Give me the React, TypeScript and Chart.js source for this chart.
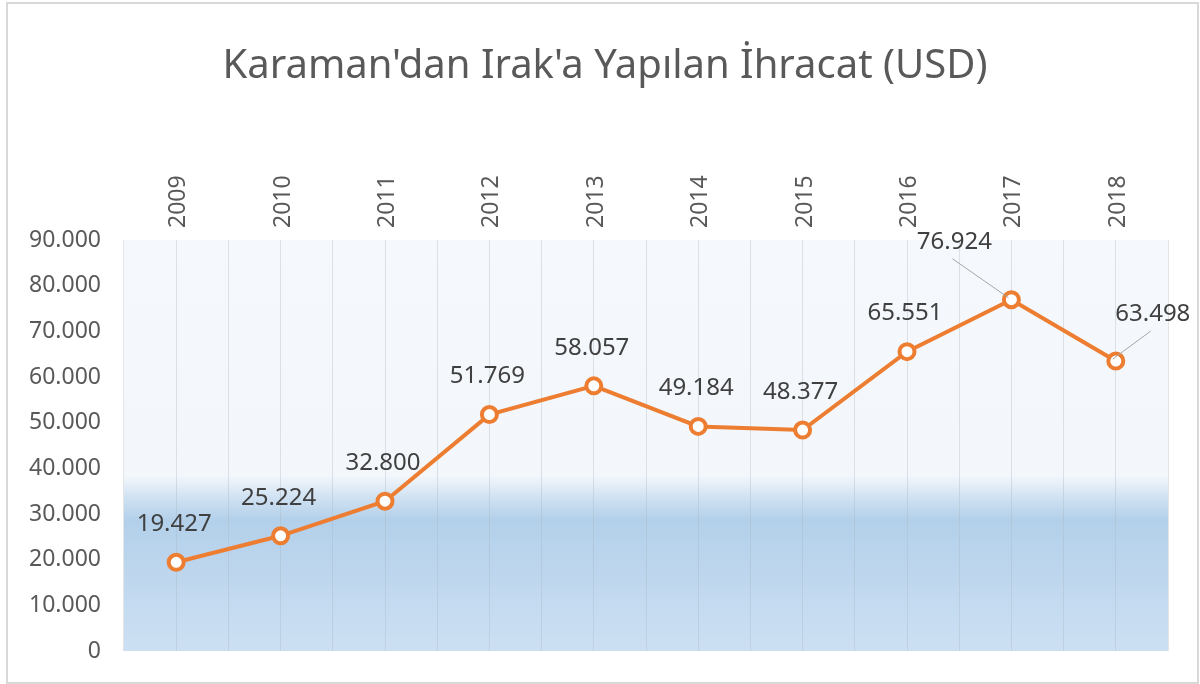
import React, { useEffect, useRef } from 'react';
import { Chart, registerables } from 'chart.js';

Chart.register(...registerables);

const chartTitle = "Karaman'dan Irak'a Yapılan İhracat (USD)";
const years = ['2009', '2010', '2011', '2012', '2013', '2014', '2015', '2016', '2017', '2018'];
const exportsUsd = [19427, 25224, 32800, 51769, 58057, 49184, 48377, 65551, 76924, 63498];
const yMin = 0;
const yMax = 90000;
const yStep = 10000;

const fmt = (v: number) => (v === 0 ? '0' : String(v).replace(/\B(?=(\d{3})+(?!\d))/g, '.'));

const FONT = "'Noto Sans', sans-serif";

export default function App() {
  const ref = useRef<HTMLCanvasElement | null>(null);

  useEffect(() => {
    document.body.style.margin = '0';
    const canvas = ref.current;
    if (!canvas) return;

    const bgPlugin = {
      id: 'bgPlugin',
      beforeDraw(chart: any) {
        const { ctx, chartArea: a } = chart;
        ctx.save();
        ctx.fillStyle = '#ffffff';
        ctx.fillRect(0, 0, chart.width, chart.height);
        // outer frame
        ctx.strokeStyle = '#d9d9d9';
        ctx.lineWidth = 2;
        ctx.strokeRect(7, 3, 1191, 680);
        // plot area gradient
        const h = a.bottom - a.top;
        const g = ctx.createLinearGradient(0, a.top, 0, a.bottom);
        g.addColorStop(0, '#f5f9fd');
        g.addColorStop((476 - a.top) / h, '#f3f7fc');
        g.addColorStop((498 - a.top) / h, '#cfe1f2');
        g.addColorStop((520 - a.top) / h, '#b3d0ea');
        g.addColorStop(1, '#cde0f3');
        ctx.fillStyle = g;
        ctx.fillRect(a.left, a.top, a.right - a.left, h);
        ctx.restore();
      },
    };

    const titlePlugin = {
      id: 'titlePlugin',
      afterDraw(chart: any) {
        const { ctx } = chart;
        ctx.save();
        ctx.font = `40px ${FONT}`;
        ctx.fillStyle = '#595959';
        ctx.textAlign = 'center';
        ctx.textBaseline = 'alphabetic';
        ctx.fillText(chartTitle, 605, 78);
        ctx.restore();
      },
    };

    const labelOffsets: Record<number, { dx: number; dy: number; leader: boolean }> = {
      8: { dx: -57, dy: -58, leader: true },
      9: { dx: 37, dy: -47, leader: true },
    };

    const labelPlugin = {
      id: 'labelPlugin',
      afterDatasetsDraw(chart: any) {
        const { ctx } = chart;
        const meta = chart.getDatasetMeta(0);
        ctx.save();
        ctx.font = `24px ${FONT}`;
        ctx.fillStyle = '#404040';
        ctx.textAlign = 'center';
        ctx.textBaseline = 'middle';
        meta.data.forEach((pt: any, i: number) => {
          const off = labelOffsets[i] || { dx: -2, dy: -38, leader: false };
          const lx = pt.x + off.dx;
          const ly = pt.y + off.dy;
          if (off.leader) {
            ctx.strokeStyle = '#a6a6a6';
            ctx.lineWidth = 1;
            ctx.beginPath();
            ctx.moveTo(lx - 2, ly + 17);
            ctx.lineTo(pt.x - 3, pt.y - 2);
            ctx.stroke();
          }
          ctx.fillText(fmt(exportsUsd[i]), lx, ly);
        });
        ctx.restore();
      },
    };

    const chart = new Chart(canvas, {
      type: 'line',
      data: {
        labels: years,
        datasets: [
          {
            data: exportsUsd,
            borderColor: '#ED7D31',
            borderWidth: 4,
            backgroundColor: '#ffffff',
            pointBackgroundColor: '#ffffff',
            pointBorderColor: '#ED7D31',
            pointBorderWidth: 4,
            pointRadius: 7.5,
            tension: 0,
            fill: false,
          },
        ],
      },
      options: {
        responsive: false,
        animation: false,
        layout: { padding: { left: 8, right: 32, top: 0, bottom: 33 } },
        plugins: {
          legend: { display: false },
          title: { display: false },
          tooltip: { enabled: false },
        },
        scales: {
          x: {
            type: 'category',
            position: 'top',
            offset: true,
            grid: { display: true, offset: false, color: 'rgba(170,180,190,0.35)', drawTicks: false, lineWidth: 1 },
            border: { display: false },
            ticks: {
              font: { family: FONT, size: 23 },
              color: '#595959',
              padding: 12,
              labelOffset: 30,
              minRotation: 90,
              maxRotation: 90,
              autoSkip: false,
            },
            afterFit(scale: any) {
              scale.height = 240;
            },
          },
          x2: {
            type: 'category',
            position: 'top',
            offset: true,
            grid: { display: true, offset: true, color: 'rgba(170,180,190,0.35)', drawTicks: false, lineWidth: 1 },
            border: { display: false },
            ticks: { display: false },
            afterFit(scale: any) {
              scale.height = 0;
            },
          },
          y: {
            type: 'linear',
            min: yMin,
            max: yMax,
            grid: { display: false, drawTicks: false },
            border: { display: false },
            ticks: {
              stepSize: yStep,
              font: { family: FONT, size: 23 },
              color: '#595959',
              padding: 23,
              callback: (v: any) => fmt(Number(v)),
            },
            afterFit(scale: any) {
              scale.width = 116;
              scale.paddingTop = 0;
              scale.paddingBottom = 0;
            },
          },
        },
      } as any,
      plugins: [bgPlugin, titlePlugin, labelPlugin],
    });

    return () => chart.destroy();
  }, []);

  return <canvas ref={ref} width={1200} height={684} style={{ display: 'block' }} />;
}
